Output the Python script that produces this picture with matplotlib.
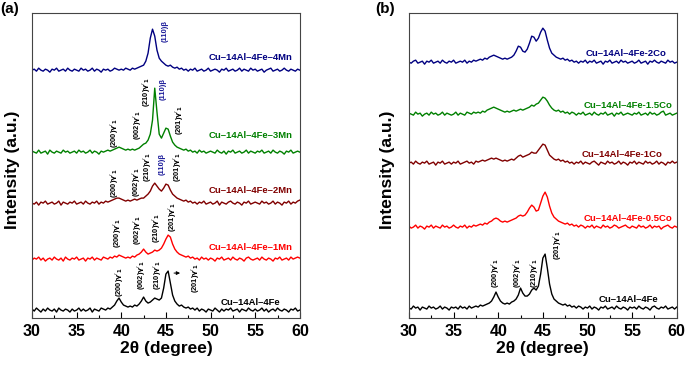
import numpy as np
import matplotlib
matplotlib.use('Agg')
import matplotlib.pyplot as plt

plt.rcParams['font.family'] = ['Liberation Sans', 'DejaVu Sans']
plt.rcParams['font.weight'] = 'bold'
plt.rcParams['mathtext.default'] = 'bf'

# 2theta grid, 30..60 in 0.25 steps (121 points)
two_theta = np.arange(121) * 0.25 + 30

# intensity (pixel-height units above each baseline)
fe_a = [1,-1,2,0,-2,1,-1,2,0,-1,1,-2,2,0,-1,1,0,-2,1,-1,
        0,2,-1,1,-1,0,2,-2,1,0,-1,2,1,0,2,1,3,5,9,12,
        8,5,4,3,4,3,5,4,6,9,13,9,7,8,10,12,11,10,12,22,
        36,39,27,15,9,6,4,5,3,2,3,1,2,0,2,-1,1,0,-2,1,
        0,-1,2,0,-2,1,-1,1,0,2,-1,0,1,-2,1,0,-1,2,0,-1,
        1,-1,0,2,-1,1,-2,0,1,-1,2,0,-1,1,0,-2,1,0,2,-1,
        0]
mn1 = [-1,1,0,2,-1,1,-2,0,1,-1,2,0,-1,1,-2,2,0,-1,1,0,
       2,-1,0,1,-2,1,0,2,-1,1,0,-1,2,1,0,2,1,3,2,4,
       3,2,1,2,1,3,2,4,5,7,10,7,5,6,7,9,8,9,11,15,
       20,24,22,15,10,7,5,4,3,2,3,1,2,0,1,-1,2,0,1,-1,
       1,0,-2,1,0,2,-1,0,1,-1,2,0,-1,1,0,-2,1,2,0,-1,
       0,1,-1,2,0,-1,1,0,-2,1,0,2,-1,0,1,-1,2,0,1,2,
       1]
mn2 = [0,-1,1,-2,1,0,2,-1,0,1,-1,0,2,-2,1,0,-1,1,0,2,
       -1,0,1,-1,2,0,-1,1,0,2,-1,1,0,2,1,2,3,4,5,5,
       4,3,2,3,2,3,4,3,4,5,5,7,9,12,17,20,17,14,12,15,
       19,18,13,9,7,5,4,3,2,3,1,2,0,1,-1,1,0,2,-1,0,
       1,-1,0,2,-2,1,0,-1,1,2,0,-1,1,0,-2,1,0,2,-1,0,
       1,0,-1,2,0,1,-1,0,2,-1,1,0,-2,1,0,2,-1,1,0,2,
       3]
mn3 = [1,0,-1,2,-1,0,1,-2,2,0,-1,1,0,-1,2,0,1,-1,0,1,
       -1,2,0,1,-1,0,2,-1,1,0,-2,1,0,1,2,1,2,3,4,5,
       4,3,2,3,2,3,2,3,4,6,8,9,12,18,32,64,40,18,14,19,
       24,23,16,10,7,5,4,3,2,3,1,2,0,1,-1,2,0,1,-1,0,
       1,0,-1,2,0,-1,1,-2,1,0,2,-1,0,1,-1,0,2,-1,1,0,
       -1,1,0,2,-1,0,1,-1,2,0,-1,1,0,-2,1,0,2,-1,0,1,
       0]
mn4 = [0,1,-1,2,0,-1,1,0,-2,1,0,2,-1,0,1,-1,2,0,-1,1,
       0,-1,2,0,1,-1,0,2,-1,1,0,-2,1,0,1,-1,0,2,1,0,
       1,0,2,1,0,2,1,2,3,4,5,9,17,32,41,34,20,12,9,7,
       5,4,5,3,2,3,1,2,0,1,-1,1,0,2,-1,0,1,-1,0,2,
       -1,0,1,0,-2,1,0,2,-1,0,1,-1,0,2,-1,1,0,-1,2,0,
       1,-1,0,1,-2,0,1,2,-1,0,1,-1,0,2,0,-1,1,0,-1,1,
       0]

fe_b = [0,-1,2,0,1,-2,1,0,-1,2,0,1,-1,0,2,-1,1,0,-2,1,
        0,1,-1,2,0,1,-1,2,0,1,2,1,3,2,3,4,5,7,11,16,
        11,7,5,4,5,4,6,7,9,13,20,15,12,12,14,18,20,18,22,34,
        50,54,40,24,14,9,7,5,4,3,4,2,3,1,2,0,2,1,-1,1,
        0,2,-1,1,0,-2,1,0,2,-1,0,1,-1,2,0,-1,1,0,-2,1,
        0,1,-1,2,0,-1,1,0,-2,1,2,0,-1,1,0,2,-1,0,1,-1,
        1]
co05 = [1,-1,0,2,-1,1,0,-2,1,0,2,-1,1,0,-1,2,0,1,-1,0,
        2,0,-1,1,0,2,-1,1,0,2,1,2,3,2,4,3,5,6,8,9,
        8,6,5,6,5,6,7,8,9,11,12,11,12,15,19,22,20,16,17,24,
        31,35,30,21,14,10,8,6,5,4,3,4,2,3,1,2,0,2,1,-1,
        1,0,2,-1,1,0,-1,2,0,1,-1,0,2,1,-1,0,1,2,0,-1,
        1,0,-1,2,0,1,-1,0,2,-1,1,0,1,-2,0,1,2,0,-1,1,
        0]
co1 = [0,1,-1,2,0,-1,1,0,2,-1,0,1,-2,1,0,2,-1,0,1,-1,
       1,0,2,-1,0,1,2,0,1,-1,2,1,2,3,2,3,4,5,4,5,
       4,3,2,3,2,3,4,3,5,7,8,6,7,8,9,11,10,10,13,16,
       19,18,13,8,6,4,3,4,2,3,1,2,0,1,-1,1,0,2,-1,1,
       0,-1,1,2,0,-2,1,0,-1,2,0,1,-1,0,2,-1,1,0,-2,1,
       0,2,-1,1,0,-1,2,0,1,-1,0,2,-1,1,0,-2,1,0,2,0,
       1]
co15 = [1,0,-1,2,0,1,-2,0,1,-1,2,0,1,-1,0,2,-1,1,0,-1,
        0,2,-1,1,0,-1,2,1,0,2,1,2,1,3,2,4,5,6,7,6,
        5,4,3,2,3,2,3,4,3,4,5,4,5,6,7,9,8,10,11,14,
        17,16,13,9,6,4,3,4,2,3,1,2,0,2,1,-1,1,0,2,-1,
        0,1,-1,2,0,-1,1,0,2,-1,0,1,-2,1,0,2,-1,0,1,0,
        -1,1,0,2,-1,0,1,-1,2,0,1,-1,0,2,3,-1,0,1,-1,0,
        1]
co2 = [0,-1,1,2,-1,0,1,-2,1,0,2,-1,0,1,-1,2,0,-1,1,0,
       2,-1,0,1,0,2,-1,1,0,2,1,2,3,2,4,3,5,6,7,6,
       5,4,3,4,3,4,5,7,11,16,15,11,10,13,19,26,25,21,24,30,
       34,31,22,14,9,7,5,4,3,4,2,3,1,2,0,1,-1,1,0,2,
       -1,1,0,2,-1,0,1,-2,1,0,2,-1,0,1,-1,2,0,1,-1,0,
       1,-1,0,2,-1,0,1,-2,1,0,2,0,-1,1,0,-1,2,0,1,-1,
       0]

names_a = ['Cu–14Al–4Fe', 'Cu–14Al–4Fe–1Mn', 'Cu–14Al–4Fe–2Mn',
           'Cu–14Al–4Fe–3Mn', 'Cu–14Al–4Fe–4Mn']
names_b = ['Cu–14Al–4Fe', 'Cu–14Al–4Fe-0.5Co', 'Cu–14Al–4Fe-1Co',
           'Cu–14Al–4Fe-1.5Co', 'Cu–14Al–4Fe-2Co']
series_a = [fe_a, mn1, mn2, mn3, mn4]
series_b = [fe_b, co05, co1, co15, co2]
offsets_a = [8, 59, 115, 166, 248]
offsets_b = [10, 91, 155, 204, 256]
colors = ['black', '#ff0000', '#800000', '#008000', '#000080']

# sample name positions: (x right edge, y)
name_pos_a = [(57.8, 16), (59.2, 71), (59.2, 128), (59.2, 183), (59.2, 261)]
name_pos_b = [(57.9, 19), (59.5, 100), (58.4, 164), (59.5, 213), (58.9, 265)]

g = r"$\gamma'_1$"
beta_c = '#1a1a99'
# peak labels: (text, x, y bottom, colour)
peaks_a = [
    ('(200)' + g, 39.85, 21, 'black'), ('(002)' + g, 42.3, 28, 'black'),
    ('(210)' + g, 44.1, 28, 'black'), ('(201)' + g, 48.3, 25, 'black'),
    ('(200)' + g, 39.6, 70, 'black'), ('(002)' + g, 41.9, 73, 'black'),
    ('(210)' + g, 44.0, 75, 'black'), ('(201)' + g, 45.8, 86, 'black'),
    ('(200)' + g, 39.3, 120, 'black'), ('(002)' + g, 41.7, 121, 'black'),
    ('(210)' + g, 43.0, 136, 'black'), ('(110)β', 44.6, 143, beta_c),
    ('(201)' + g, 46.3, 136, 'black'),
    ('(200)' + g, 39.3, 170, 'black'), ('(002)' + g, 41.9, 178, 'black'),
    ('(210)' + g, 42.9, 211, 'black'), ('(110)β', 44.7, 218, beta_c),
    ('(201)' + g, 46.6, 183, 'black'),
    ('(110)β', 44.9, 276, beta_c),
]
peaks_b = [
    ('(200)' + g, 39.75, 30, 'black'), ('(002)' + g, 42.2, 30, 'black'),
    ('(210)' + g, 44.1, 30, 'black'), ('(201)' + g, 46.7, 58, 'black'),
]

fig = plt.figure(figsize=(6.85, 3.66), dpi=100)
ax_a = fig.add_axes([0.0467, 0.131, 0.391, 0.833])
ax_b = fig.add_axes([0.597, 0.131, 0.391, 0.833])

def draw(ax, series, offsets, names, name_pos, peaks, ylab_x):
    for s, off, c, name, (nx, ny) in zip(series, offsets, colors, names, name_pos):
        ax.plot(two_theta, np.array(s) + off, color=c, lw=1.0)
        ax.text(nx, ny, name, color=c, fontsize=6.8, fontweight='bold',
                ha='right', va='center')
    for txt, x, y, c in peaks:
        ax.text(x, y, txt, rotation=90, fontsize=5.4, fontweight='bold',
                ha='center', va='bottom', color=c)
    ax.set_xlim(30, 60)
    ax.set_ylim(0, 305)
    ax.set_xticks(np.arange(30, 61, 5))
    ax.set_xticks(np.arange(32.5, 60, 5), minor=True)
    ax.set_xticklabels([str(v) for v in range(30, 61, 5)], fontweight='bold')
    ax.tick_params(axis='x', which='both', direction='in', labelsize=11.5, pad=4)
    ax.tick_params(axis='x', which='major', length=4, width=0.8)
    ax.tick_params(axis='x', which='minor', length=2, width=0.8)
    ax.tick_params(axis='y', left=False, labelleft=False)
    for sp in ax.spines.values():
        sp.set_color('#444444')
        sp.set_linewidth(0.8)
    ax.set_xlabel('2θ (degree)', fontsize=12.5, fontweight='bold', labelpad=2)
    ax.set_ylabel('Intensity (a.u.)', fontsize=12.5, fontweight='bold')
    ax.yaxis.set_label_coords(ylab_x, 0.485)

draw(ax_a, series_a, offsets_a, names_a, name_pos_a, peaks_a, -0.045)
draw(ax_b, series_b, offsets_b, names_b, name_pos_b, peaks_b, -0.052)

ax_a.annotate('', xy=(46.9, 45), xytext=(45.6, 45),
              arrowprops=dict(arrowstyle='-|>', lw=0.7, color='black',
                              mutation_scale=5))

fig.text(0.0, 0.995, '(a)', fontsize=11, fontweight='bold', va='top', ha='left')
fig.text(0.548, 0.995, '(b)', fontsize=11, fontweight='bold', va='top', ha='left')

fig.savefig('out.png', dpi=100)
